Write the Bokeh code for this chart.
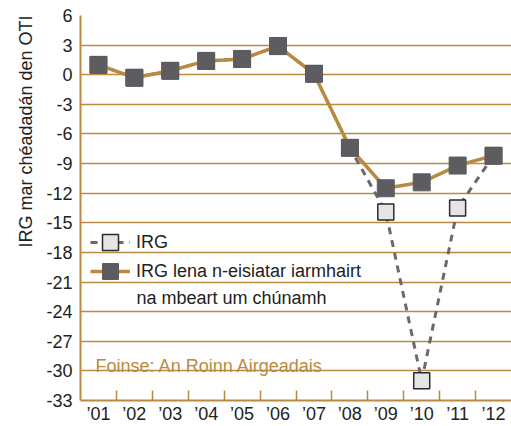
from bokeh.plotting import figure
from bokeh.models import (FixedTicker, Label, Legend, LegendItem, ColumnDataSource, Title)
from bokeh.embed import file_html
from bokeh.resources import INLINE

years = ["\u201901", "\u201902", "\u201903", "\u201904", "\u201905", "\u201906",
         "\u201907", "\u201908", "\u201909", "\u201910", "\u201911", "\u201912"]
irg = [1.0, -0.3, 0.4, 1.4, 1.6, 2.9, 0.1, -7.4, -13.9, -31.0, -13.5, -8.2]
irg_excl = [1.0, -0.3, 0.4, 1.4, 1.6, 2.9, 0.1, -7.4, -11.5, -10.9, -9.2, -8.2]
y_ticks = [-33, -30, -27, -24, -21, -18, -15, -12, -9, -6, -3, 0, 3, 6]
y_tick_labels = ["-33", "-30", "-27", "-24", "-21", "-18", "-15", "-12", "-9",
                 "-6", "-3", "0", "3", "6"]

label_irg = "IRG"
label_excl_1 = "IRG lena n-eisiatar iarmhairt"
label_excl_2 = "na mbeart um ch\u00fanamh"
y_title = "IRG mar ch\u00e9adad\u00e1n den OTI"
source_note = "Foinse: An Roinn Airgeadais"

GOLD = "#b98a40"
DARK = "#5d5c61"
LIGHT = "#e5e5e7"
TXT = "#222222"
FONT = "Liberation Sans"
FS = "18px"

xs = [i + 0.5 for i in range(len(years))]
src = ColumnDataSource(dict(x=xs, irg=irg, excl=irg_excl))

p = figure(width=511, height=426, x_range=(0, 12), y_range=(-33, 6),
           output_backend="svg", toolbar_location=None,
           min_border_left=80, min_border_right=0, min_border_top=15,
           min_border_bottom=24)
p.outline_line_color = None
p.background_fill_color = "white"
p.border_fill_color = "white"

# axes
p.xaxis.ticker = FixedTicker(ticks=xs, minor_ticks=[i for i in range(1, 12)])
p.xaxis.major_label_overrides = {x: y for x, y in zip(xs, years)}
p.xaxis.major_tick_line_color = None
p.xaxis.major_tick_in = 0
p.xaxis.major_tick_out = 0
p.xaxis.minor_tick_line_color = GOLD
p.xaxis.minor_tick_line_width = 1.5
p.xaxis.minor_tick_in = 10
p.xaxis.minor_tick_out = 0
p.xaxis.axis_line_color = GOLD
p.xaxis.axis_line_width = 2
p.xaxis.major_label_standoff = 3
p.xaxis.major_label_text_font = FONT
p.xaxis.major_label_text_font_size = FS
p.xaxis.major_label_text_color = TXT

p.yaxis.ticker = FixedTicker(ticks=y_ticks)
p.yaxis.major_label_overrides = {t: s for t, s in zip(y_ticks, y_tick_labels)}
p.yaxis.major_tick_line_color = None
p.yaxis.major_tick_in = 0
p.yaxis.major_tick_out = 0
p.yaxis.minor_tick_line_color = None
p.yaxis.axis_line_color = GOLD
p.yaxis.axis_line_width = 2
p.yaxis.major_label_standoff = 8
p.yaxis.major_label_text_font = FONT
p.yaxis.major_label_text_font_size = FS
p.yaxis.major_label_text_color = TXT

p.xgrid.grid_line_color = None
p.ygrid.grid_line_color = GOLD
p.ygrid.grid_line_width = 1.5

# series
l1 = p.line("x", "irg", source=src, line_color="#6a6a6a", line_width=3, line_dash="7 6")
s1 = p.scatter("x", "irg", source=src, marker="square", size=16, fill_color=LIGHT,
               line_color="#2a2a2a", line_width=1.5)
l2 = p.line("x", "excl", source=src, line_color=GOLD, line_width=3.5)
s2 = p.scatter("x", "excl", source=src, marker="square", size=17, fill_color=DARK,
               line_color=DARK, line_width=1)

common = dict(orientation="vertical", glyph_width=40, glyph_height=42,
              label_standoff=6, spacing=0, padding=0, margin=0,
              border_line_color=None, background_fill_alpha=0,
              label_text_font=FONT, label_text_font_size=FS,
              label_text_color=TXT)
legend_a = Legend(items=[LegendItem(label=label_irg, renderers=[l1, s1])],
                  location=(10, 137), **common)
legend_b = Legend(items=[LegendItem(label=label_excl_1, renderers=[l2, s2])],
                  location=(10, 108), **common)
p.add_layout(legend_a, "center")
p.add_layout(legend_b, "center")

p.add_layout(Label(x=1.56, y=-22.6, text=label_excl_2, text_font=FONT,
                   text_font_size=FS, text_color=TXT,
                   text_baseline="alphabetic"))

p.add_layout(Label(x=0.42, y=-29.5, text=source_note, text_font=FONT,
                   text_font_size=FS, text_color=GOLD,
                   text_baseline="alphabetic"))

p.add_layout(Title(text=y_title, align="right", offset=0, standoff=15,
                   text_font=FONT, text_font_size=FS, text_font_style="normal",
                   text_color=TXT), "left")

open("out.html", "w").write(file_html(p, INLINE))
